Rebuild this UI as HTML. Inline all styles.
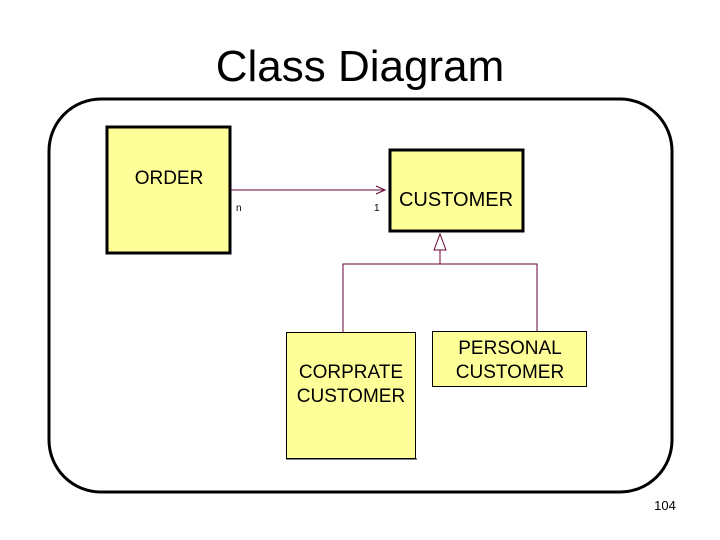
<!DOCTYPE html>
<html><head><style>
body{margin:0;width:720px;height:540px;background:#fff;position:relative;overflow:hidden;font-family:"Liberation Sans",sans-serif}
.t{position:absolute;left:0;width:720px;top:42px;text-align:center;font-size:44px}
</style></head><body>
<div class="t">Class Diagram</div>
<svg width="720" height="540" style="position:absolute;left:0;top:0" font-family="Liberation Sans, sans-serif">
<rect x="49" y="99" width="623" height="393" rx="52" fill="none" stroke="#000" stroke-width="3"/>
<rect x="107" y="127" width="123" height="126" fill="#ffff99" stroke="#000" stroke-width="3"/>
<text x="169" y="184" font-size="19" text-anchor="middle">ORDER</text>
<line x1="231" y1="190" x2="385" y2="190" stroke="#660033" stroke-width="1"/>
<polyline points="376,186 385,190 376,194" fill="none" stroke="#660033" stroke-width="1"/>
<text x="236" y="211" font-size="10">n</text>
<text x="374" y="211" font-size="10">1</text>
<rect x="390" y="150" width="133" height="81" fill="#ffff99" stroke="#000" stroke-width="3"/>
<text x="456" y="206" font-size="20" text-anchor="middle">CUSTOMER</text>
<polygon points="440,234 434,250 446,250" fill="#fff" stroke="#660033" stroke-width="1"/>
<line x1="440" y1="250" x2="440" y2="264" stroke="#660033"/>
<polyline points="343,332 343,264 537,264 537,331" fill="none" stroke="#660033"/>
<rect x="286.5" y="332.5" width="129" height="126" fill="#ffff99" stroke="#000" stroke-width="1"/>
<line x1="286" y1="459" x2="417" y2="459" stroke="#000"/>
<text x="351" y="378" font-size="19" text-anchor="middle">CORPRATE</text>
<text x="351" y="402" font-size="19" text-anchor="middle">CUSTOMER</text>
<rect x="432.5" y="331.5" width="154" height="55" fill="#ffff99" stroke="#000" stroke-width="1"/>
<text x="510" y="354" font-size="19" text-anchor="middle">PERSONAL</text>
<text x="510" y="378" font-size="19" text-anchor="middle">CUSTOMER</text>
<text x="665" y="510" font-size="13" text-anchor="middle">104</text>
</svg>
</body></html>
